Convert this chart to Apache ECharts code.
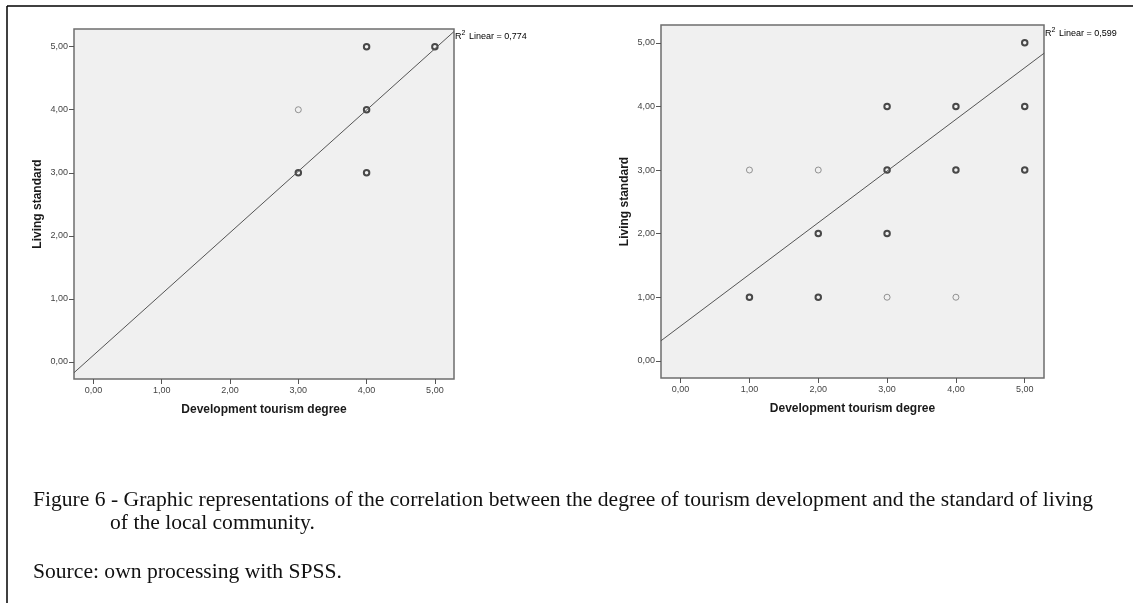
<!DOCTYPE html>
<html>
<head>
<meta charset="utf-8">
<script src="https://cdn.jsdelivr.net/npm/echarts@6/dist/echarts.min.js"></script>
<style>
html, body { margin: 0; padding: 0; background: #fff; }
#main { width: 1133px; height: 603px; }
</style>
</head>
<body>
<div id="main"></div>
<script>
// axis ticks (SPSS output uses decimal comma)
var tickValues = [0, 1, 2, 3, 4, 5];
var tickLabels = ['0,00', '1,00', '2,00', '3,00', '4,00', '5,00'];

// left panel: points, dark ring = several cases on one spot
var leftX = [3, 3, 4, 4, 4, 5];
var leftY = [4, 3, 5, 4, 3, 5];
var leftStacked = [0, 1, 1, 1, 1, 1];
var leftFitX = [-0.285, 5.28];
var leftFitY = [-0.17, 5.24];
var leftR2 = '0,774';

// right panel
var rightX = [5, 3, 4, 5, 1, 2, 3, 4, 5, 2, 3, 1, 2, 3, 4];
var rightY = [5, 4, 4, 4, 3, 3, 3, 3, 3, 2, 2, 1, 1, 1, 1];
var rightStacked = [1, 1, 1, 1, 0, 0, 1, 1, 1, 1, 1, 1, 1, 0, 0];
var rightFitX = [-0.287, 5.283];
var rightFitY = [0.314, 4.838];
var rightR2 = '0,599';

var xTitle = 'Development tourism degree';
var yTitle = 'Living standard';
var caption1 = 'Figure 6 - Graphic representations of the correlation between the degree of tourism development and the standard of living';
var caption2 = 'of the local community.';
var caption3 = 'Source: own processing with SPSS.';

var sans = '"Liberation Sans", Arial, sans-serif';
var serif = '"Liberation Serif", "Times New Roman", serif';

function pts(xs, ys, stacked) {
    var out = [];
    for (var i = 0; i < xs.length; i++) {
	out.push({
	    value : [xs[i], ys[i]],
	    symbolSize : stacked[i] ? 5.5 : 6,
	    itemStyle : stacked[i] ? {
		color : 'rgba(0,0,0,0)',
		borderColor : '#1e1e1e',
		borderWidth : 2
	    } : {
		color : 'rgba(0,0,0,0)',
		borderColor : '#7a7a7a',
		borderWidth : 1
	    }
	});
    }
    return out;
}

function fit(xs, ys) {
    return xs.map(function(x, i) { return [x, ys[i]]; });
}

function xAxis(idx) {
    return {
	type : 'value',
	gridIndex : idx,
	position : 'bottom',
	min : -0.285,
	max : 5.28,
	name : xTitle,
	nameLocation : 'middle',
	nameGap : 25,
	nameTextStyle : { fontFamily : sans, fontWeight : 'bold', fontSize : 12, color : '#1a1a1a' },
	axisLine : { show : false, onZero : false },
	splitLine : { show : false },
	axisTick : { show : true, customValues : tickValues, length : 5, lineStyle : { color : '#555' } },
	axisLabel : {
	    customValues : tickValues,
	    margin : 7,
	    fontFamily : sans,
	    fontSize : 9,
	    color : '#444',
	    formatter : function(v) { return tickLabels[tickValues.indexOf(v)]; }
	}
    };
}

function yAxis(idx) {
    return {
	type : 'value',
	gridIndex : idx,
	position : 'left',
	min : -0.27,
	max : 5.28,
	name : yTitle,
	nameLocation : 'middle',
	nameGap : 30,
	nameTextStyle : { fontFamily : sans, fontWeight : 'bold', fontSize : 12, color : '#1a1a1a' },
	axisLine : { show : false, onZero : false },
	splitLine : { show : false },
	axisTick : { show : true, customValues : tickValues, length : 5, lineStyle : { color : '#555' } },
	axisLabel : {
	    customValues : tickValues,
	    margin : 6,
	    fontFamily : sans,
	    fontSize : 9,
	    color : '#444',
	    formatter : function(v) { return tickLabels[tickValues.indexOf(v)]; }
	}
    };
}

// R2 label with a real superscript
function r2Label(x, y, val) {
    return {
	type : 'text', x : x, y : y,
	style : {
	    text : '{b|R}{s|2}{b| Linear = ' + val + '}',
	    verticalAlign : 'middle',
	    rich : {
		b : { fontFamily : sans, fontSize : 9, color : '#333', verticalAlign : 'bottom', height : 12 },
		s : { fontFamily : sans, fontSize : 7, color : '#333', verticalAlign : 'top', height : 12, padding : [0, 1, 4, 0] }
	    }
	}
    };
}

// pick the caption size so line 1 spans the same width as in the figure
var ctx = document.createElement('canvas').getContext('2d');
ctx.font = '20px ' + serif;
var capSize = Math.round(20 * 1060 / ctx.measureText(caption1).width * 10) / 10;
var capFont = capSize + 'px ' + serif;

var gridStyle = { show : true, backgroundColor : '#f0f0f0', borderColor : '#6e6e6e', borderWidth : 1.5 };

var chart = echarts.init(document.getElementById('main'));
chart.setOption({
    animation : false,
    grid : [
	Object.assign({ left : 74, top : 29, width : 380, height : 350 }, gridStyle),
	Object.assign({ left : 661, top : 25, width : 383, height : 353 }, gridStyle)
    ],
    xAxis : [ xAxis(0), xAxis(1) ],
    yAxis : [ yAxis(0), yAxis(1) ],
    series : [ {
	type : 'line',
	xAxisIndex : 0,
	yAxisIndex : 0,
	data : fit(leftFitX, leftFitY),
	showSymbol : false,
	silent : true,
	lineStyle : { color : '#555', width : 1 }
    }, {
	type : 'scatter',
	xAxisIndex : 0,
	yAxisIndex : 0,
	symbol : 'circle',
	data : pts(leftX, leftY, leftStacked)
    }, {
	type : 'line',
	xAxisIndex : 1,
	yAxisIndex : 1,
	data : fit(rightFitX, rightFitY),
	showSymbol : false,
	silent : true,
	lineStyle : { color : '#555', width : 1 }
    }, {
	type : 'scatter',
	xAxisIndex : 1,
	yAxisIndex : 1,
	symbol : 'circle',
	data : pts(rightX, rightY, rightStacked)
    } ],
    graphic : [
	// outer frame of the figure
	{ type : 'line', shape : { x1 : 7, y1 : 6, x2 : 1133, y2 : 6 }, style : { stroke : '#000', lineWidth : 1.5 } },
	{ type : 'line', shape : { x1 : 7, y1 : 6, x2 : 7, y2 : 603 }, style : { stroke : '#000', lineWidth : 1.5 } },
	r2Label(455, 35, leftR2),
	r2Label(1045, 32, rightR2),
	{ type : 'text', x : 33, y : 500, style : { text : caption1, font : capFont, fill : '#111', verticalAlign : 'middle' } },
	{ type : 'text', x : 110, y : 523, style : { text : caption2, font : capFont, fill : '#111', verticalAlign : 'middle' } },
	{ type : 'text', x : 33, y : 572, style : { text : caption3, font : capFont, fill : '#111', verticalAlign : 'middle' } }
    ]
});
</script>
</body>
</html>
